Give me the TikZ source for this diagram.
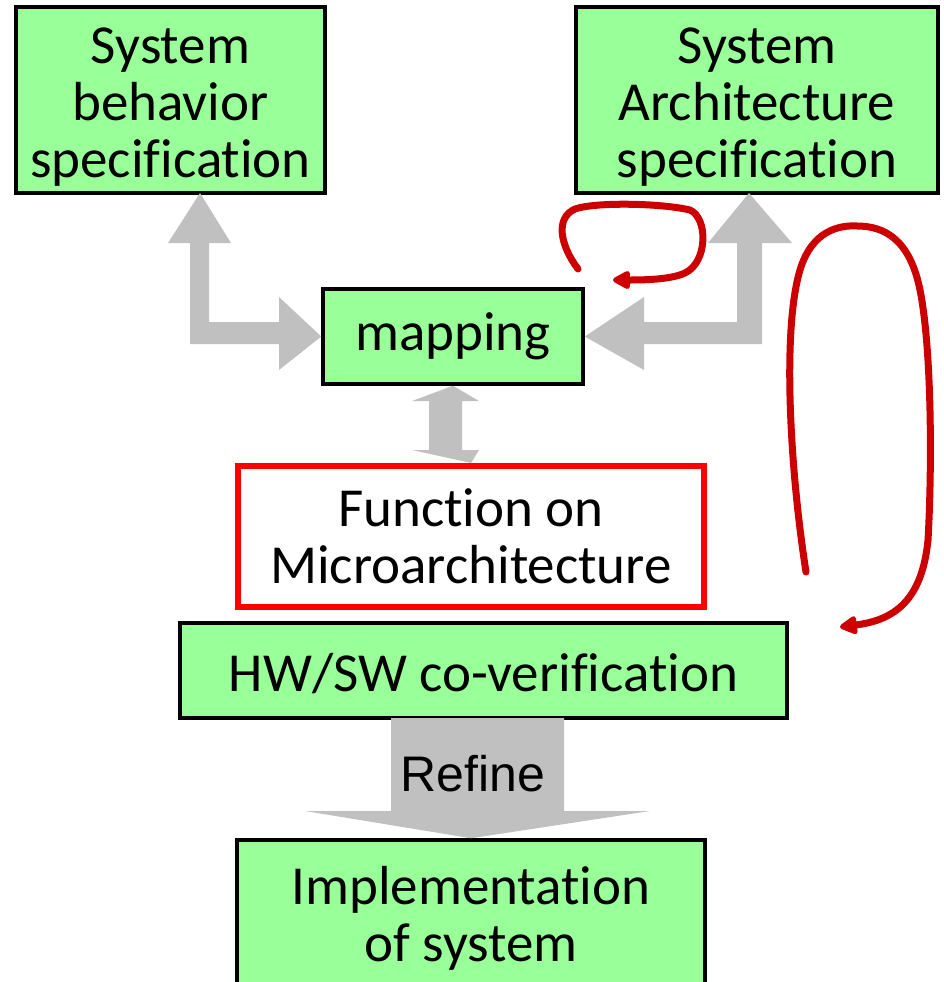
\documentclass[tikz,border=0pt]{standalone}
\usepackage{fontspec}
\setmainfont{Carlito}[Ligatures=NoCommon]
\newfontfamily\labelfont{Liberation Sans}
\usetikzlibrary{arrows.meta,calc}
\definecolor{boxgreen}{RGB}{153,255,153}
\definecolor{blockgray}{RGB}{192,192,192}
\definecolor{loopred}{RGB}{204,0,0}
\tikzset{
  greenbox/.style={draw=black, line width=3.5pt, fill=boxgreen, inner sep=0pt,
    align=center, font=\fontsize{55}{57}\selectfont},
  redbox/.style={draw=red, line width=6pt, fill=white, inner sep=0pt,
    align=center, font=\fontsize{55}{57}\selectfont},
  blockarrow/.style={fill=blockgray, draw=none},
  redloop/.style={draw=loopred, line width=7pt, line cap=round,
    -{Triangle[length=20pt,width=20pt,round=false]}},
}
\begin{document}
\begin{tikzpicture}[x=1pt, y=-1pt]
\useasboundingbox (0,0) rectangle (943,982);

% boxes
\node[greenbox, minimum width=309pt, minimum height=186pt] (behav) at (170.5,100)
  {\rule{0pt}{50pt}System\\behavior\\specification};
\node[greenbox, minimum width=362pt, minimum height=186pt] (arch) at (757,100)
  {\rule{0pt}{50pt}System\\Architecture\\specification};
\node[greenbox, minimum width=260pt, minimum height=95pt] (map) at (453,336.5)
  {mapping};
\node[redbox, minimum width=466pt, minimum height=141pt] (func) at (471,536.5)
  {Function on\\Microarchitecture};
\node[greenbox, minimum width=607pt, minimum height=95pt] (cover) at (483.5,670.5)
  {\rule{0pt}{45pt}HW/SW co-verification};
\node[greenbox, minimum width=468pt, minimum height=147pt] (impl) at (471,913.5)
  {\rule{0pt}{47pt}Implementation\\of system};

% block arrow between behaviour spec and mapping
\fill[blockarrow] (200,193) -- (231,243) -- (209,243) -- (209,322) -- (279,322)
  -- (279,297) -- (map.west) -- (279,370) -- (279,344) -- (190,344) -- (190,243)
  -- (168,243) -- cycle;
% block arrow between architecture spec and mapping
\fill[blockarrow] (749,193) -- (792,243) -- (762,243) -- (762,344) -- (644,344)
  -- (644,370) -- (map.east) -- (644,297) -- (644,322) -- (737,322) -- (737,243)
  -- (708,243) -- cycle;
% double arrow between mapping and function
\fill[blockarrow] (map.south) -- (479,401) -- (462,401) -- (462,450) -- (479,450)
  -- (func.north) -- (412,450) -- (429,450) -- (429,401) -- (412,401) -- cycle;
% refine arrow
\fill[blockarrow] (391,718) -- (564,718) -- (564,811) -- (650,811) -- (impl.north)
  -- (305,811) -- (391,811) -- cycle;
\node[font=\labelfont\fontsize{50}{55}\selectfont, inner sep=0pt] (refine) at (473,774) {Refine};

% iteration loops
\coordinate (smallstart) at (578,269);
\coordinate (smallend) at (613,280);
\draw[redloop] (smallstart) .. controls (560,245) and (555,218) .. (575,209)
  .. controls (595,202) and (660,203) .. (690,210)
  .. controls (708,218) and (708,262) .. (685,273)
  .. controls (670,280) and (640,280) .. (smallend);
\coordinate (bigstart) at (806,572);
\coordinate (bigend) at (840,627);
\draw[redloop] (bigstart) .. controls (790,470) and (782,330) .. (800,270)
  .. controls (812,230) and (840,225) .. (857,226)
  .. controls (885,226) and (910,240) .. (920,290)
  .. controls (932,350) and (932,470) .. (928,540)
  .. controls (922,600) and (895,620) .. (bigend);
\end{tikzpicture}
\end{document}
